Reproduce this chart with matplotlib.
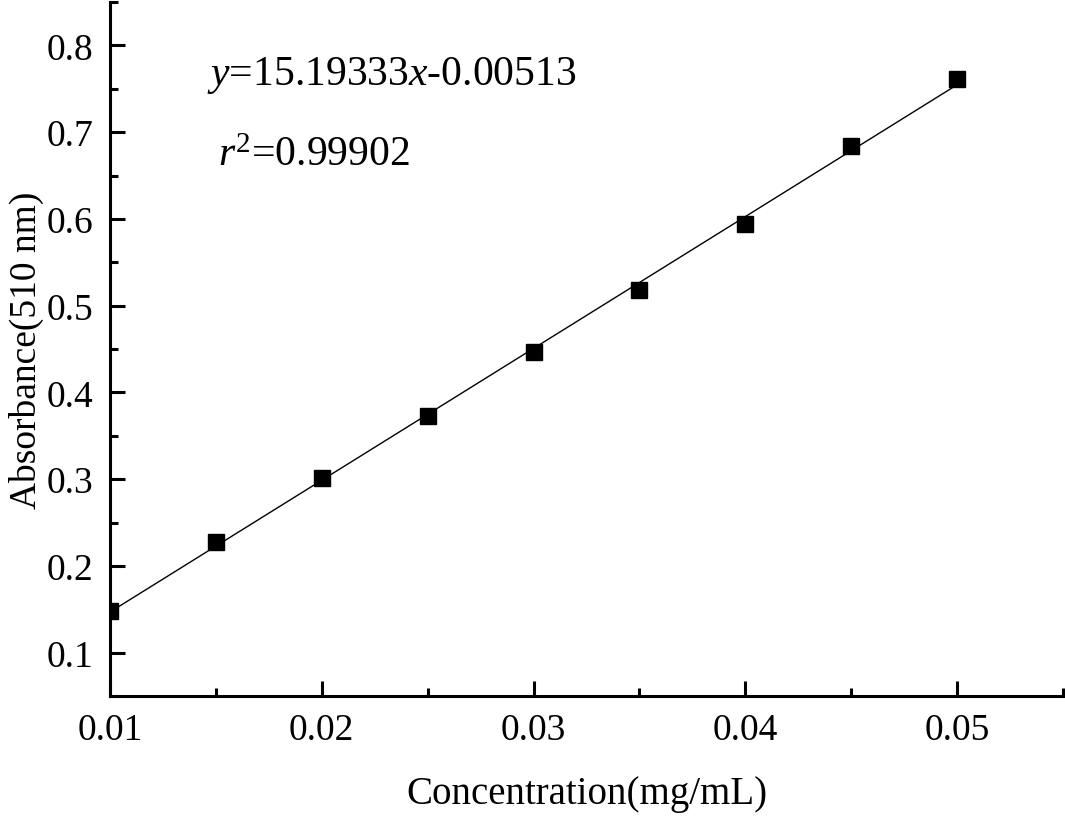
"""Calibration curve: absorbance at 510 nm vs concentration."""

import numpy as np
import matplotlib

matplotlib.use("Agg")
from matplotlib import pyplot as plt
from matplotlib.ticker import MultipleLocator

# Data.
concentration = [0.010, 0.015, 0.020, 0.025, 0.030, 0.035, 0.040, 0.045, 0.050]
absorbance = [0.148, 0.228, 0.301, 0.373, 0.447, 0.518, 0.594, 0.684, 0.761]

# Fit reported on the chart.
slope = 15.19333
intercept = -0.00513
r_squared = 0.99902

plt.rcParams["font.family"] = ["Liberation Serif", "DejaVu Serif"]
plt.rcParams["mathtext.fontset"] = "custom"
plt.rcParams["mathtext.rm"] = "Liberation Serif"
plt.rcParams["mathtext.it"] = "Liberation Serif:italic"

fig = plt.figure(figsize=(10.65, 8.2), dpi=100)
ax = fig.add_axes([0.1033, 0.15, 0.8947, 0.8463])

x_fit = np.array([concentration[0], concentration[-1]])
ax.plot(x_fit, slope * x_fit + intercept, color="black", lw=1.0)
ax.plot(concentration, absorbance, "s", color="black", markersize=11.5)

ax.set_xlim(0.01, 0.055)
ax.set_ylim(0.05, 0.85)
ax.xaxis.set_minor_locator(MultipleLocator(0.005))
ax.yaxis.set_minor_locator(MultipleLocator(0.05))
ax.set_xticks([0.01, 0.02, 0.03, 0.04, 0.05])
ax.set_xticklabels(["0.01", "0.02", "0.03", "0.04", "0.05"])
ax.set_yticks([0.1, 0.2, 0.3, 0.4, 0.5, 0.6, 0.7, 0.8])
ax.set_yticklabels(["0.1", "0.2", "0.3", "0.4", "0.5", "0.6", "0.7", "0.8"])

for side in ("top", "right"):
    ax.spines[side].set_visible(False)
for side in ("left", "bottom"):
    ax.spines[side].set_linewidth(2.2)

ax.tick_params(which="major", direction="in", length=11, width=2.2,
               labelsize=27, pad=12)
ax.tick_params(which="minor", direction="in", length=6, width=2.2)

ax.set_xlabel("Concentration(mg/mL)", fontsize=28, labelpad=20)
ax.set_ylabel("Absorbance(510 nm)", fontsize=27, labelpad=2)

ax.text(0.01458, 0.766, r"$y$=15.19333$x$-0.00513", fontsize=30,
        ha="left", va="center")
ax.text(0.0151, 0.674, r"$r^2$=0.99902", fontsize=30,
        ha="left", va="center")

fig.savefig("out.png", dpi=100)
